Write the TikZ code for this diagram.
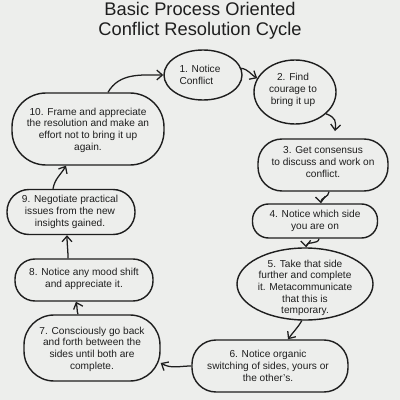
\documentclass[tikz,border=0pt]{standalone}
\usepackage{fontspec}
\setmainfont{Liberation Sans}
\usetikzlibrary{arrows.meta,shapes.geometric}
\definecolor{bg}{HTML}{EDEEEC}
\definecolor{ink}{HTML}{1E1E1E}
\begin{document}
\begin{tikzpicture}[x=0.025cm,y=-0.025cm,
  blob/.style={ellipse,draw=ink,line width=1pt,inner sep=0pt},
  rblob/.style={rectangle,draw=ink,line width=1pt,inner sep=0pt,rounded corners=#1},
  txt/.style={align=center,font=\fontsize{7.2}{8.3}\selectfont,text=ink,inner sep=0pt},
  conn/.style={draw=ink,line width=0.9pt,-{Straight Barb[length=4pt,width=7pt]}}]
\fill[bg] (0,0) rectangle (400,400);
\useasboundingbox (0,0) rectangle (400,400);
\node[align=center,font=\fontsize{13}{14.5}\selectfont,text=ink] (title) at (200,21) {Basic Process Oriented\\Conflict Resolution Cycle};
% shapes
\node[blob,minimum width=78*0.025cm,minimum height=50*0.025cm] (n1) at (203,75) {};
\node[blob,minimum width=82*0.025cm,minimum height=64*0.025cm] (n2) at (295,92) {};
\node[rblob=0.6cm,minimum width=130*0.025cm,minimum height=52*0.025cm] (n3) at (323,165) {};
\node[rblob=0.4cm,minimum width=125*0.025cm,minimum height=34*0.025cm] (n4) at (315,221) {};
\node[blob,minimum width=136*0.025cm,minimum height=72*0.025cm] (n5) at (305,284) {};
\node[rblob=0.6cm,minimum width=156*0.025cm,minimum height=52*0.025cm] (n6) at (270,366) {};
\node[rblob=0.75cm,minimum width=136*0.025cm,minimum height=66*0.025cm] (n7) at (92,348) {};
\node[rblob=0.5cm,minimum width=138*0.025cm,minimum height=42*0.025cm] (n8) at (84,280) {};
\node[rblob=0.55cm,minimum width=128*0.025cm,minimum height=45*0.025cm] (n9) at (71,212) {};
\node[rblob=0.85cm,minimum width=152*0.025cm,minimum height=72*0.025cm] (n10) at (88,129) {};
% texts
\node[txt,align=left] (t1) at (200,75) {1. Notice\\Conflict};
\node[txt] (t2) at (293,90) {2. Find\\courage to\\bring it up};
\node[txt] (t3) at (323,162) {3. Get consensus\\to discuss and work on\\conflict.};
\node[txt] (t4) at (315,221) {4. Notice which side\\you are on};
\node[txt] (t5) at (305,288) {5. Take that side\\further and complete\\it. Metacommunicate\\that this is\\temporary.};
\node[txt] (t6) at (268,366) {6. Notice organic\\switching of sides, yours or\\the other's.};
\node[txt] (t7) at (92,349) {7. Consciously go back\\and forth between the\\sides until both are\\complete.};
\node[txt] (t8) at (84,279) {8. Notice any mood shift\\and appreciate it.};
\node[txt] (t9) at (70,212) {9. Negotiate practical\\issues from the new\\insights gained.};
\node[txt] (t10) at (88,130) {10. Frame and appreciate\\the resolution and make an\\effort not to bring it up\\again.};
% connectors
\draw[conn] (n10.north) ++(20,0) coordinate (c10) (c10) to[out=60,in=180] (n1.180);
\draw[conn] (n1.10) to[out=-10,in=150] (n2.160);
\draw[conn] (n2.-35) .. controls +(10,4) and +(1,-10) .. ([xshift=12*0.025cm,yshift=0.18cm]n3.north);
\draw[conn] ([xshift=6*0.025cm]n3.south) to[out=-90,in=95] ([xshift=6*0.025cm]n4.north);
\draw[conn] ([xshift=4*0.025cm]n4.south) to[out=-95,in=95] (n5.88);
\draw[conn] (n5.-95) to[out=-120,in=55] ([xshift=18*0.025cm]n6.north);
\draw[conn] (n6.west) to[out=180,in=-30] ([yshift=-15*0.025cm]n7.east);
\draw[conn] ([xshift=-14*0.025cm]n7.north) to[out=110,in=-70] ([xshift=-8*0.025cm]n8.south);
\draw[conn] ([xshift=-16*0.025cm]n8.north) to[out=90,in=-90] ([xshift=-4*0.025cm]n9.south);
\draw[conn] ([xshift=-18*0.025cm]n9.north) to[out=80,in=-120] ([xshift=-22*0.025cm]n10.south);
\end{tikzpicture}
\end{document}
